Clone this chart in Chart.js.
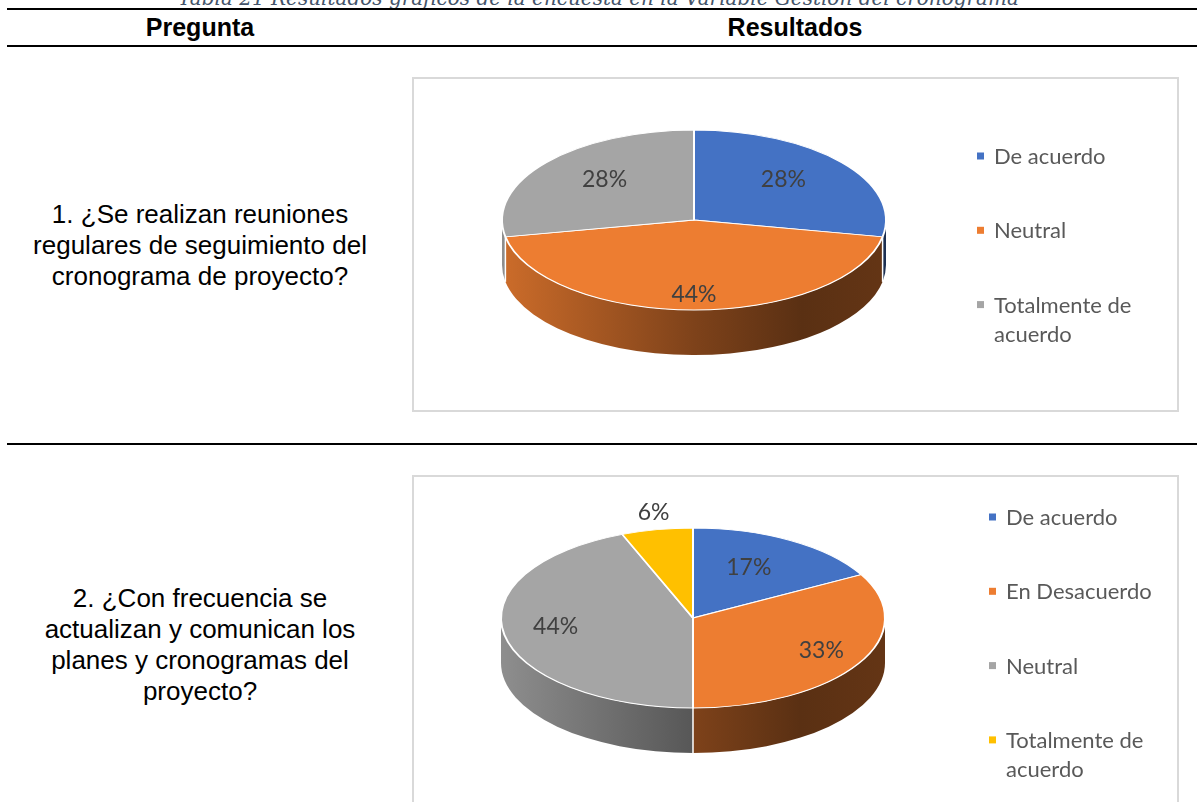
<!DOCTYPE html>
<html><head><meta charset="utf-8">
<script src="https://cdn.jsdelivr.net/npm/chart.js@4.4.0/dist/chart.umd.min.js"></script>
<style>
body{margin:0;background:#fff;}
#page{position:relative;width:1197px;height:802px;overflow:hidden;background:#fff;}
.abs{position:absolute;}
.title{left:0;width:1197px;top:-12px;text-align:center;font:italic 20px "DejaVu Serif";line-height:20px;color:#44546A;white-space:nowrap;}
.rule{left:7px;width:1190px;height:2px;background:#000;}
.hdr{top:10px;height:35px;font:bold 25px "Liberation Sans";line-height:35px;text-align:center;color:#000;}
.q{left:0;width:400px;text-align:center;font:26px "Liberation Sans";line-height:31px;color:#000;}
.box{border:2px solid #d9d9d9;box-sizing:border-box;background:#fff;}
canvas{position:absolute;}
</style></head>
<body><div id="page">
<div class="abs title">Tabla 21 Resultados gráficos de la encuesta en la Variable Gestión del cronograma</div>
<div class="abs rule" style="top:8px"></div>
<div class="abs hdr" style="left:0;width:400px">Pregunta</div>
<div class="abs hdr" style="left:395px;width:800px">Resultados</div>
<div class="abs rule" style="top:45px"></div>
<div class="abs q" style="top:199px">1. ¿Se realizan reuniones<br>regulares de seguimiento del<br>cronograma de proyecto?</div>
<div class="abs box" style="left:412px;top:77px;width:767px;height:335px"></div>
<canvas id="c1" width="765" height="333" style="left:413px;top:78px"></canvas>
<div class="abs rule" style="top:443px"></div>
<div class="abs q" style="top:583px">2. ¿Con frecuencia se<br>actualizan y comunican los<br>planes y cronogramas del<br>proyecto?</div>
<div class="abs box" style="left:412px;top:475px;width:767px;height:340px"></div>
<canvas id="c2" width="765" height="326" style="left:413px;top:476px"></canvas>
</div>
<script>
// ---- data ----
const labels1 = ['De acuerdo', 'Neutral', 'Totalmente de acuerdo'];
const values1 = [28, 44, 28];
const labels2 = ['De acuerdo', 'En Desacuerdo', 'Neutral', 'Totalmente de acuerdo'];
const values2 = [17, 33, 44, 6];
const colors1 = ['#4472C4', '#ED7D31', '#A5A5A5'];
const colors2 = ['#4472C4', '#ED7D31', '#A5A5A5', '#FFC000'];

function shade(hex, f) {
  const n = parseInt(hex.slice(1), 16);
  const r = Math.round(((n >> 16) & 255) * f), g = Math.round(((n >> 8) & 255) * f), b = Math.round((n & 255) * f);
  return 'rgb(' + r + ',' + g + ',' + b + ')';
}
function wrap(ctx, text, maxW) {
  const words = text.split(' '); const lines = []; let cur = '';
  words.forEach(w => {
    const t = cur ? cur + ' ' + w : w;
    if (ctx.measureText(t).width > maxW && cur) { lines.push(cur); cur = w; } else cur = t;
  });
  if (cur) lines.push(cur);
  return lines;
}

const TAU = Math.PI * 2;
const pie3d = {
  id: 'pie3d',
  beforeDatasetsDraw(chart, args, o) {
    const ctx = chart.ctx;
    const arcs = chart.getDatasetMeta(0).data;
    const colors = chart.data.datasets[0].backgroundColor;
    const cx = arcs[0].x, cy = arcs[0].y, r = arcs[0].outerRadius;
    const ry = o.ry, cyT = o.centerY, depth = o.depth;
    ctx.save();
    arcs.forEach((el, i) => {
      const a = Math.max(el.startAngle, 0), b = Math.min(el.endAngle, Math.PI);
      if (b <= a) return;
      const g = ctx.createLinearGradient(cx - r, 0, cx + r, 0);
      g.addColorStop(0, shade(colors[i], 0.86));
      g.addColorStop(0.5, shade(colors[i], 0.53));
      g.addColorStop(0.78, shade(colors[i], 0.38));
      g.addColorStop(1, shade(colors[i], 0.42));
      ctx.beginPath();
      ctx.ellipse(cx, cyT, r, ry, 0, a, b, false);
      ctx.ellipse(cx, cyT + depth, r, ry, 0, b, a, true);
      ctx.closePath();
      ctx.fillStyle = g;
      ctx.fill();
    });
    ctx.strokeStyle = '#fff';
    ctx.lineWidth = 1.5;
    arcs.forEach(el => {
      const t = ((el.endAngle % TAU) + TAU) % TAU;
      if (t > 0.01 && t < Math.PI - 0.01) {
        const x = cx + r * Math.cos(t), y = cyT + ry * Math.sin(t);
        ctx.beginPath(); ctx.moveTo(x, y); ctx.lineTo(x, y + depth); ctx.stroke();
      }
    });
    ctx.restore();
    ctx.save();
    ctx.translate(cx, cyT);
    ctx.scale(1, ry / r);
    ctx.translate(-cx, -cy);
  },
  afterDatasetsDraw(chart, args, o) {
    const ctx = chart.ctx;
    ctx.restore();
    const arcs = chart.getDatasetMeta(0).data;
    const vals = chart.data.datasets[0].data;
    const total = vals.reduce((s, v) => s + v, 0);
    const cx = arcs[0].x, r = arcs[0].outerRadius, ry = o.ry, cyT = o.centerY;
    ctx.save();
    ctx.font = o.labelFont;
    ctx.fillStyle = '#404040';
    ctx.textAlign = 'center';
    ctx.textBaseline = 'alphabetic';
    arcs.forEach((el, i) => {
      const m = (el.startAngle + el.endAngle) / 2;
      const pct = Math.round(vals[i] / total * 100);
      let x, y;
      if (pct < 10) {
        x = cx + (r + 18) * Math.cos(m);
        y = cyT + ry * Math.sin(m) + 18 * Math.sin(m);
      } else {
        const f = 0.7 + 0.15 * Math.sin(m);
        x = cx + r * f * Math.cos(m);
        y = cyT + ry * f * Math.sin(m) - 16 * (1 - f);
      }
      ctx.fillText(pct + '%', x, y + o.capHalf);
    });
    ctx.restore();
  },
  afterDraw(chart, args, o) {
    const ctx = chart.ctx;
    const ds = chart.data.datasets[0];
    ctx.save();
    ctx.font = o.font;
    ctx.textAlign = 'left';
    ctx.textBaseline = 'alphabetic';
    chart.data.labels.forEach((lab, i) => {
      const y = o.legendY + i * o.legendStep;
      ctx.fillStyle = ds.backgroundColor[i];
      ctx.fillRect(o.legendX, y - 3.5, 7, 7);
      ctx.fillStyle = '#595959';
      wrap(ctx, lab, o.legendMaxW).forEach((ln, j) => ctx.fillText(ln, o.legendX + 17, y + j * o.legendLine + o.capHalf));
    });
    ctx.restore();
  }
};

function makeChart(id, labels, values, colors, conf) {
  const canvas = document.getElementById(id);
  return new Chart(canvas, {
    type: 'pie',
    data: { labels: labels, datasets: [{ data: values, backgroundColor: colors, borderColor: '#ffffff', borderWidth: 2, clip: false, hoverOffset: 0, radius: conf.rx }] },
    options: {
      responsive: false, animation: false, events: [], radius: conf.rx,
      layout: { padding: { left: 0, right: canvas.width - 2 * conf.cx, top: 0, bottom: 0 } },
      plugins: {
        legend: { display: false }, tooltip: { enabled: false },
        pie3d: { ry: conf.ry, centerY: conf.cy, depth: conf.depth, font: '22px Lato', labelFont: '23px Lato', capHalf: 8,
                 legendX: conf.legendX, legendY: conf.legendY, legendStep: 74.3, legendLine: 29, legendMaxW: 170 }
      }
    },
    plugins: [pie3d]
  });
}

makeChart('c1', labels1, values1, colors1, { cx: 281, cy: 142, rx: 192, ry: 90, depth: 45, legendX: 564, legendY: 78 });
makeChart('c2', labels2, values2, colors2, { cx: 280, cy: 142, rx: 192, ry: 90, depth: 45, legendX: 576, legendY: 41 });
</script>
</body></html>
